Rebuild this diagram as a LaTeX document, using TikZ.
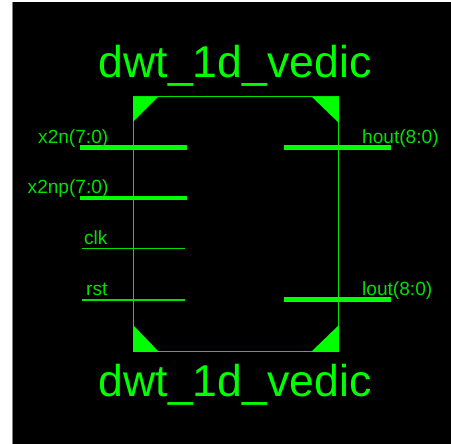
\documentclass[tikz,border=0pt]{standalone}
\usepackage{fontspec}
\setmainfont{Liberation Sans}
\definecolor{sym}{RGB}{0,255,0}
\definecolor{symd}{RGB}{0,225,0}
\tikzset{
  x=1pt,y=-1pt,
  bus/.style={draw=sym,line width=4.4pt},
  wire/.style={draw=symd,line width=1.5pt},
  corner/.style={fill=sym,draw=none},
  title/.style={text=sym,font=\fontsize{44.6}{44.6}\selectfont,inner sep=0pt,anchor=base},
  pinlabel/.style={text=symd,font=\fontsize{19.1}{19.1}\selectfont,inner sep=0pt,anchor=base west},
}
\begin{document}
\begin{tikzpicture}
\useasboundingbox (0,0) rectangle (451,444);
\fill[white] (0,0) rectangle (451,444);
\fill[black] (13,2) rectangle (451,444);
\fill[black!50] (12,2) rectangle (13,444);
\node[draw=symd,line width=1.5pt,minimum width=205.2pt,minimum height=254.6pt,inner sep=0pt,anchor=north west] (box) at (132.6,96) {};
\fill[corner] (133,97) -- (158,97) -- (133,122) -- cycle;
\fill[corner] (312,97) -- (339,97) -- (339,123) -- cycle;
\fill[corner] (311,352) -- (339,352) -- (339,325) -- cycle;
\fill[corner] (133,352) -- (159,352) -- (133,325) -- cycle;
\node[title] (t1) at (235,78) {dwt\_1d\_vedic};
\node[title] (t2) at (235,397) {dwt\_1d\_vedic};
\coordinate (a1) at (80,147.5); \coordinate (a2) at (187,147.5);
\coordinate (b1) at (80,198); \coordinate (b2) at (187,198);
\coordinate (c1) at (82,248.5); \coordinate (c2) at (184.5,248.5);
\coordinate (d1) at (82,300); \coordinate (d2) at (184.5,300);
\coordinate (e1) at (284,147.5); \coordinate (e2) at (391,147.5);
\coordinate (f1) at (284,299.5); \coordinate (f2) at (391,299.5);
\draw[bus] (a1) -- (a2);
\draw[bus] (b1) -- (b2);
\draw[wire] (c1) -- (c2);
\draw[wire] (d1) -- (d2);
\draw[bus] (e1) -- (e2);
\draw[bus] (f1) -- (f2);
\node[pinlabel] (l1) at (38,144) {x2n(7:0)};
\node[pinlabel] (l2) at (27.5,194) {x2np(7:0)};
\node[pinlabel] (l3) at (84,245) {clk};
\node[pinlabel] (l4) at (86,296) {rst};
\node[pinlabel] (l5) at (362,144) {hout(8:0)};
\node[pinlabel] (l6) at (362,296) {lout(8:0)};
\end{tikzpicture}
\end{document}
